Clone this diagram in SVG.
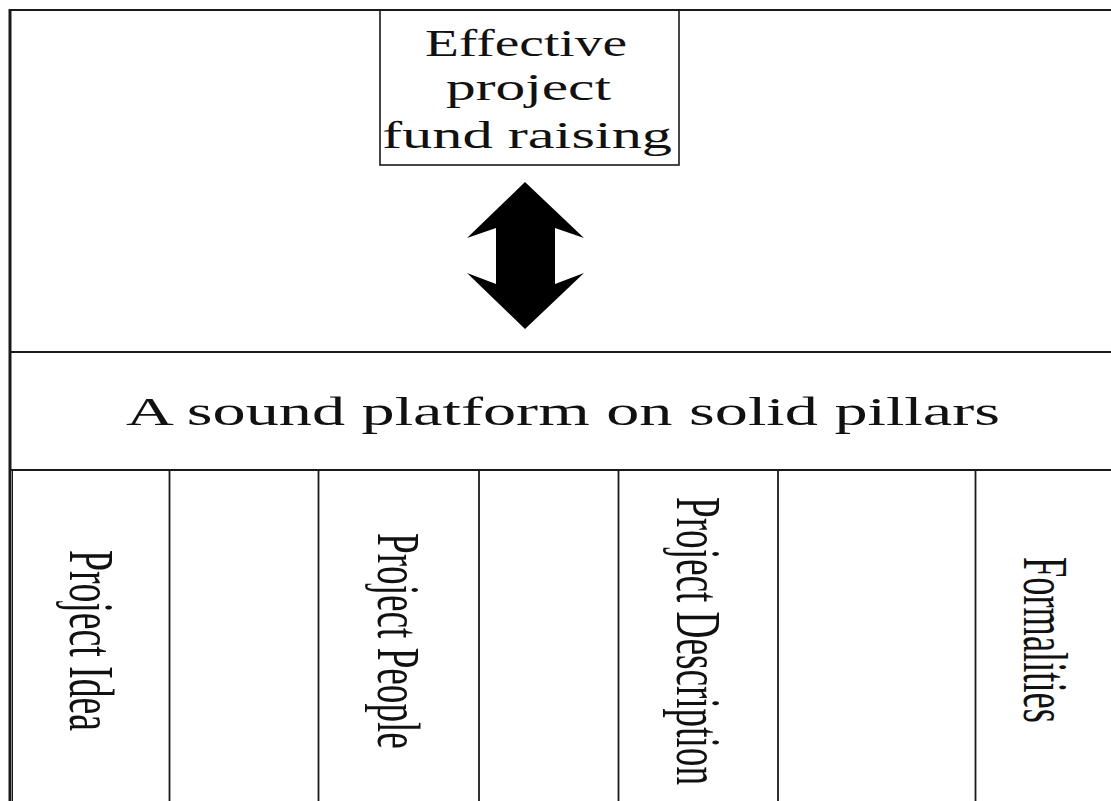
<svg xmlns="http://www.w3.org/2000/svg" width="1111" height="801" viewBox="0 0 1111 801">
<style>
.ln{stroke:#1a1a1a;fill:none}
.t{font-family:"Liberation Serif","Times New Roman",serif;fill:#111}
</style>
<rect width="1111" height="801" fill="#fff"/>
<g id="frame">
<line class="ln" x1="10" y1="10" x2="1111" y2="10" stroke-width="2.2"/>
<line class="ln" x1="10" y1="9" x2="10" y2="801" stroke-width="3"/>
<line class="ln" x1="12.5" y1="470" x2="12.5" y2="801" stroke-width="1"/>
</g>
<g id="goal">
<rect class="ln" x="380" y="10" width="299" height="155" stroke-width="1.6"/>
<text class="t" font-size="37" x="425" y="56" textLength="202" lengthAdjust="spacingAndGlyphs">Effective</text>
<text class="t" font-size="37" x="446" y="100" textLength="165" lengthAdjust="spacingAndGlyphs">project</text>
<text class="t" font-size="37" x="382" y="148" textLength="290" lengthAdjust="spacingAndGlyphs">fund raising</text>
</g>
<g id="connectors">
<path d="M525,182 L584,238 L555,228 L555,284 L584,273 L525,329 L467,273 L496,284 L496,228 L467,238 Z" fill="#000"/>
</g>
<g id="platform">
<line class="ln" x1="10" y1="352" x2="1111" y2="352" stroke-width="2"/>
<line class="ln" x1="10" y1="470" x2="1111" y2="470" stroke-width="2"/>
<text class="t" font-size="41" x="126" y="425" textLength="874" lengthAdjust="spacingAndGlyphs">A sound platform on solid pillars</text>
</g>
<g id="pillars">
<line class="ln" x1="169.5" y1="470" x2="169.5" y2="801" stroke-width="1.8"/>
<line class="ln" x1="318.5" y1="470" x2="318.5" y2="801" stroke-width="1.8"/>
<line class="ln" x1="479" y1="470" x2="479" y2="801" stroke-width="1.8"/>
<line class="ln" x1="618.5" y1="470" x2="618.5" y2="801" stroke-width="1.8"/>
<line class="ln" x1="778" y1="470" x2="778" y2="801" stroke-width="1.8"/>
<line class="ln" x1="975.5" y1="470" x2="975.5" y2="801" stroke-width="1.8"/>
</g>
<g id="pillar-idea">
<text class="t" font-size="64" transform="translate(70,550) rotate(90) scale(0.589,1)">Project Idea</text>
</g>
<g id="pillar-people">
<text class="t" font-size="62" transform="translate(378,533) rotate(90) scale(0.600,1)">Project People</text>
</g>
<g id="pillar-description">
<text class="t" font-size="64" transform="translate(677,497) rotate(90) scale(0.581,1)">Project Description</text>
</g>
<g id="pillar-formalities">
<text class="t" font-size="63" transform="translate(1024,557) rotate(90) scale(0.578,1)">Formalities</text>
</g>
</svg>
